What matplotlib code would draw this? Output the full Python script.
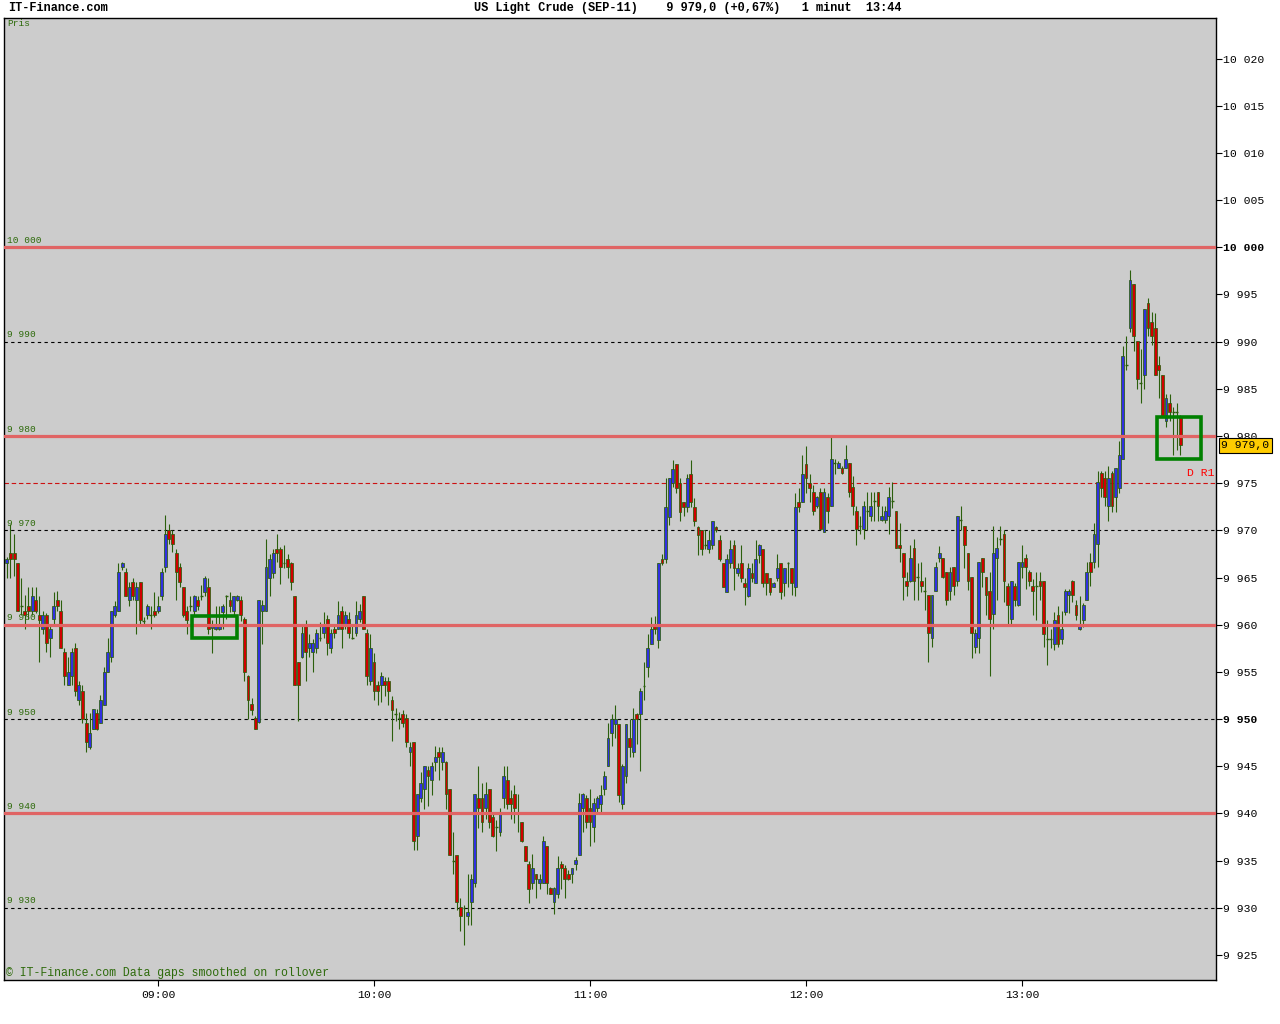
import matplotlib
matplotlib.use("Agg")
import matplotlib.pyplot as plt
import matplotlib.transforms as mtransforms
from matplotlib.patches import Rectangle

plt.rcParams['font.family'] = ['Liberation Mono', 'DejaVu Sans Mono']

# 1 minute candles, US Light Crude (SEP-11), first candle at 08:18
first_minute = 18

open_ = [
    9966.5, 9967.6, 9967.6, 9966.5, 9962.0, 9961.5, 9962.0, 9961.5, 9962.6, 9961.0,
    9959.6, 9961.0, 9958.6, 9960.6, 9962.6, 9961.5, 9957.1, 9953.6, 9954.6, 9957.5,
    9952.0, 9953.0, 9949.6, 9947.0, 9949.0, 9950.6, 9949.6, 9951.5, 9955.0, 9956.6,
    9961.0, 9961.5, 9966.1, 9965.6, 9962.6, 9964.5, 9962.6, 9964.5, 9960.4, 9961.0,
    9961.0, 9961.5, 9961.5, 9963.0, 9966.1, 9970.0, 9969.6, 9967.6, 9966.1, 9964.0,
    9961.5, 9962.0, 9961.5, 9962.6, 9963.0, 9963.5, 9964.0, 9959.7, 9959.6, 9959.6,
    9961.3, 9963.0, 9962.6, 9961.5, 9962.6, 9962.6, 9960.6, 9954.6, 9951.6, 9950.1,
    9949.7, 9961.5, 9961.5, 9965.0, 9965.5, 9968.0, 9968.0, 9966.5, 9967.0, 9966.5,
    9963.0, 9956.0, 9956.6, 9960.0, 9957.5, 9957.1, 9957.5, 9958.6, 9959.1, 9960.6,
    9957.5, 9959.6, 9959.6, 9961.5, 9959.9, 9960.6, 9958.6, 9959.1, 9960.6, 9963.0,
    9959.1, 9954.0, 9956.0, 9953.6, 9953.6, 9954.0, 9954.0, 9952.0, 9950.5, 9950.1,
    9950.5, 9950.1, 9946.5, 9947.6, 9937.6, 9941.6, 9942.6, 9944.6, 9943.5, 9945.5,
    9946.5, 9945.5, 9945.5, 9942.6, 9935.0, 9935.6, 9930.1, 9930.0, 9929.1, 9930.6,
    9932.6, 9941.6, 9941.6, 9940.6, 9942.6, 9939.6, 9938.6, 9938.0, 9941.6, 9943.5,
    9941.6, 9942.1, 9940.0, 9939.1, 9936.6, 9934.6, 9932.6, 9933.6, 9932.6, 9932.6,
    9936.6, 9932.1, 9930.6, 9931.5, 9934.6, 9934.2, 9933.6, 9933.6, 9934.6, 9935.6,
    9940.6, 9941.6, 9940.6, 9938.6, 9940.6, 9941.0, 9942.6, 9945.0, 9948.5, 9949.5,
    9949.5, 9941.0, 9944.0, 9948.0, 9946.5, 9950.5, 9950.5, 9953.5, 9955.5, 9958.0,
    9960.0, 9958.4, 9967.0, 9967.0, 9971.4, 9975.0, 9977.0, 9975.0, 9973.0, 9972.5,
    9976.0, 9972.5, 9970.4, 9970.0, 9968.5, 9968.0, 9968.5, 9970.4, 9969.0, 9966.5,
    9963.5, 9966.5, 9968.5, 9965.5, 9966.5, 9964.4, 9963.0, 9965.5, 9964.4, 9967.4,
    9968.0, 9965.5, 9965.0, 9964.0, 9965.0, 9966.5, 9964.4, 9966.5, 9966.0, 9964.0,
    9973.0, 9973.0, 9977.0, 9975.0, 9974.1, 9972.6, 9974.1, 9969.8, 9973.5, 9972.6,
    9977.1, 9976.6, 9976.6, 9976.6, 9977.1, 9974.6, 9972.1, 9970.5, 9970.1, 9972.1,
    9971.5, 9973.1, 9974.1, 9971.1, 9971.1, 9971.5, 9973.1, 9972.1, 9968.5, 9967.6,
    9964.6, 9964.6, 9968.1, 9965.1, 9964.6, 9963.6, 9963.1, 9958.6, 9963.6, 9967.1,
    9967.1, 9965.6, 9963.6, 9966.1, 9964.6, 9971.1, 9970.5, 9967.6, 9965.1, 9957.6,
    9958.6, 9967.1, 9965.1, 9963.6, 9961.1, 9967.1, 9969.1, 9969.6, 9964.1, 9960.6,
    9964.1, 9962.1, 9966.1, 9967.1, 9965.6, 9964.1, 9964.1, 9964.6, 9964.6, 9958.5,
    9958.5, 9958.0, 9961.0, 9958.5, 9961.4, 9963.1, 9964.6, 9962.1, 9959.5, 9960.5,
    9962.6, 9966.6, 9966.6, 9968.6, 9976.1, 9975.6, 9972.6, 9976.1, 9973.5, 9974.5,
    9977.6, 9987.5, 9991.5, 9996.1, 9990.1, 9985.6, 9986.5, 9994.1, 9992.1, 9991.5,
    9987.5, 9986.5, 9981.6, 9983.5, 9982.5, 9982.5, 9982.0,
]
high = [
    9967.2, 9970.7, 9969.6, 9966.5, 9965.0, 9963.1, 9964.0, 9964.0, 9964.0, 9963.0,
    9961.5, 9961.2, 9960.1, 9963.5, 9963.6, 9962.6, 9957.5, 9956.6, 9957.5, 9958.1,
    9954.0, 9953.6, 9950.6, 9950.6, 9951.1, 9951.1, 9952.6, 9955.5, 9958.6, 9961.5,
    9962.5, 9966.5, 9966.6, 9966.0, 9964.5, 9965.0, 9964.5, 9964.5, 9960.8, 9962.2,
    9962.0, 9963.5, 9963.0, 9966.0, 9971.6, 9970.7, 9970.0, 9968.0, 9966.5, 9964.0,
    9962.0, 9963.0, 9963.2, 9963.0, 9964.2, 9965.2, 9965.0, 9960.5, 9962.0, 9962.0,
    9962.2, 9963.1, 9963.5, 9963.0, 9963.1, 9963.0, 9960.8, 9954.7, 9952.2, 9950.3,
    9962.6, 9962.6, 9969.1, 9967.5, 9968.0, 9969.6, 9968.2, 9968.5, 9967.5, 9966.6,
    9963.0, 9956.0, 9960.0, 9960.5, 9959.0, 9958.5, 9959.5, 9960.3, 9961.3, 9961.0,
    9959.5, 9960.0, 9962.5, 9962.0, 9961.5, 9961.3, 9960.0, 9962.5, 9962.2, 9963.0,
    9959.5, 9959.0, 9957.0, 9954.0, 9955.0, 9954.5, 9954.5, 9952.5, 9951.2, 9950.8,
    9951.0, 9950.5, 9947.6, 9947.6, 9942.1, 9944.4, 9945.0, 9945.0, 9945.5, 9947.2,
    9947.0, 9947.0, 9945.6, 9942.6, 9938.0, 9935.6, 9931.0, 9930.3, 9933.6, 9933.6,
    9942.1, 9945.0, 9943.2, 9943.3, 9942.6, 9940.0, 9939.3, 9940.6, 9945.0, 9945.0,
    9942.5, 9943.0, 9942.1, 9939.1, 9936.6, 9935.0, 9935.7, 9933.6, 9933.6, 9937.6,
    9936.6, 9932.2, 9932.2, 9935.5, 9935.0, 9934.5, 9934.0, 9934.2, 9935.4, 9942.2,
    9942.2, 9942.0, 9942.6, 9941.6, 9941.8, 9943.0, 9944.5, 9949.6, 9950.5, 9951.5,
    9949.5, 9945.2, 9949.5, 9950.0, 9951.2, 9950.6, 9953.3, 9956.0, 9959.0, 9960.8,
    9960.9, 9966.5, 9967.5, 9975.5, 9975.5, 9977.5, 9977.0, 9975.5, 9973.0, 9976.0,
    9977.5, 9973.4, 9970.5, 9970.0, 9970.0, 9970.0, 9971.0, 9970.5, 9969.5, 9966.5,
    9967.5, 9969.0, 9969.0, 9966.5, 9968.5, 9965.0, 9966.5, 9966.5, 9969.0, 9968.6,
    9968.0, 9965.5, 9965.0, 9964.5, 9967.5, 9966.5, 9966.0, 9966.6, 9966.0, 9974.0,
    9974.5, 9978.0, 9978.9, 9976.0, 9974.8, 9973.6, 9974.5, 9974.5, 9974.0, 9979.9,
    9977.6, 9977.3, 9976.8, 9979.1, 9977.1, 9975.8, 9972.6, 9971.5, 9973.1, 9974.1,
    9974.1, 9974.1, 9974.1, 9972.6, 9972.6, 9974.6, 9975.1, 9972.1, 9970.8, 9967.6,
    9965.6, 9968.5, 9969.1, 9966.5, 9966.6, 9965.1, 9963.1, 9963.1, 9966.6, 9968.3,
    9967.1, 9965.6, 9966.1, 9966.1, 9971.5, 9972.6, 9970.5, 9967.6, 9965.1, 9959.6,
    9966.6, 9967.1, 9965.1, 9965.6, 9970.5, 9969.3, 9970.5, 9970.0, 9964.4, 9964.6,
    9964.4, 9966.6, 9968.5, 9967.5, 9965.8, 9964.8, 9965.6, 9965.6, 9964.6, 9960.5,
    9959.5, 9961.4, 9962.0, 9961.5, 9963.8, 9963.8, 9964.7, 9962.6, 9963.0, 9962.3,
    9966.6, 9967.6, 9970.8, 9976.3, 9976.3, 9976.3, 9976.8, 9976.3, 9976.6, 9979.5,
    9989.5, 9990.6, 9997.6, 9996.1, 9990.1, 9989.2, 9993.5, 9994.6, 9993.1, 9993.0,
    9988.5, 9986.5, 9984.5, 9984.5, 9983.1, 9983.5, 9982.2,
]
low = [
    9965.0, 9965.0, 9965.2, 9961.5, 9961.0, 9959.6, 9960.6, 9961.0, 9961.2, 9956.0,
    9959.0, 9957.1, 9956.6, 9960.0, 9961.5, 9957.5, 9953.6, 9953.6, 9953.6, 9952.5,
    9951.5, 9949.6, 9946.5, 9946.8, 9949.0, 9948.8, 9949.6, 9951.5, 9955.0, 9956.0,
    9960.8, 9961.5, 9965.8, 9963.0, 9962.0, 9962.6, 9959.0, 9960.0, 9960.0, 9960.6,
    9959.6, 9960.8, 9961.2, 9962.6, 9965.6, 9968.6, 9967.7, 9962.6, 9964.0, 9960.8,
    9959.0, 9961.5, 9961.0, 9961.6, 9962.6, 9963.0, 9959.0, 9957.0, 9959.4, 9959.4,
    9959.5, 9960.6, 9961.3, 9961.0, 9962.5, 9960.4, 9954.0, 9950.0, 9950.4, 9949.0,
    9949.6, 9958.0, 9961.5, 9963.0, 9965.0, 9966.7, 9964.3, 9966.0, 9965.0, 9963.7,
    9953.6, 9949.8, 9956.5, 9954.0, 9956.6, 9955.0, 9957.0, 9958.3, 9958.6, 9956.8,
    9957.0, 9958.6, 9959.5, 9957.5, 9959.5, 9958.6, 9958.5, 9958.8, 9960.3, 9959.6,
    9953.6, 9953.6, 9952.0, 9951.5, 9951.8, 9952.5, 9951.5, 9947.7, 9949.8, 9949.0,
    9949.2, 9947.0, 9945.0, 9936.1, 9936.1, 9941.2, 9940.5, 9940.8, 9942.0, 9944.5,
    9943.5, 9944.6, 9940.5, 9935.6, 9933.6, 9929.8, 9927.5, 9926.1, 9928.2, 9928.2,
    9932.2, 9938.5, 9938.0, 9939.4, 9938.5, 9937.5, 9936.0, 9937.6, 9940.6, 9940.5,
    9939.4, 9939.0, 9938.0, 9937.0, 9935.0, 9930.5, 9932.0, 9931.0, 9932.0, 9932.6,
    9931.5, 9931.5, 9929.3, 9931.0, 9932.0, 9931.0, 9933.0, 9932.6, 9934.0, 9935.6,
    9938.0, 9938.5, 9936.6, 9937.0, 9940.0, 9940.0, 9942.0, 9945.0, 9947.2, 9948.0,
    9941.2, 9940.5, 9943.2, 9946.0, 9946.0, 9947.4, 9944.5, 9952.0, 9954.5, 9958.0,
    9959.0, 9957.5, 9966.3, 9966.5, 9970.6, 9974.6, 9974.0, 9971.0, 9971.5, 9972.0,
    9972.5, 9970.5, 9967.4, 9967.4, 9968.0, 9967.6, 9968.0, 9969.8, 9966.8, 9964.0,
    9963.5, 9966.0, 9963.7, 9965.2, 9964.5, 9962.1, 9962.9, 9964.5, 9964.4, 9966.5,
    9964.0, 9963.2, 9963.2, 9964.0, 9964.6, 9962.7, 9963.0, 9964.0, 9963.2, 9963.0,
    9972.0, 9973.0, 9974.0, 9973.0, 9971.6, 9972.4, 9970.0, 9969.8, 9970.8, 9972.6,
    9976.0, 9976.6, 9976.0, 9976.6, 9973.5, 9971.6, 9968.5, 9969.6, 9969.1, 9970.0,
    9971.0, 9971.0, 9971.0, 9971.0, 9970.8, 9969.6, 9972.4, 9968.1, 9966.6, 9962.6,
    9963.0, 9964.5, 9962.6, 9962.6, 9963.5, 9961.6, 9956.1, 9957.6, 9963.6, 9966.6,
    9965.0, 9962.1, 9962.6, 9963.1, 9964.1, 9970.0, 9966.0, 9963.7, 9956.5, 9957.0,
    9957.0, 9964.0, 9961.0, 9954.6, 9959.6, 9962.6, 9968.5, 9962.4, 9960.0, 9960.0,
    9962.0, 9962.0, 9965.0, 9963.8, 9964.1, 9961.0, 9960.5, 9962.6, 9957.6, 9955.7,
    9957.5, 9957.3, 9957.6, 9958.0, 9961.0, 9961.2, 9962.4, 9960.5, 9959.4, 9959.8,
    9962.6, 9964.1, 9966.0, 9966.1, 9973.5, 9972.6, 9971.0, 9972.0, 9972.0, 9974.0,
    9977.6, 9987.0, 9991.0, 9989.0, 9985.0, 9983.5, 9985.0, 9990.6, 9989.6, 9986.5,
    9984.0, 9982.0, 9981.0, 9981.6, 9978.0, 9978.5, 9978.0,
]
close = [
    9967.0, 9967.0, 9967.0, 9961.5, 9962.0, 9961.0, 9961.5, 9963.0, 9961.5, 9960.5,
    9961.0, 9958.1, 9959.6, 9962.0, 9962.0, 9957.5, 9954.6, 9955.0, 9957.1, 9953.0,
    9953.6, 9950.0, 9947.6, 9948.5, 9951.1, 9949.0, 9952.0, 9955.0, 9957.1, 9961.5,
    9962.0, 9965.6, 9966.5, 9963.0, 9964.0, 9963.0, 9964.0, 9960.5, 9960.4, 9962.0,
    9961.0, 9961.0, 9962.0, 9965.6, 9969.6, 9969.1, 9968.6, 9965.6, 9964.5, 9961.0,
    9960.5, 9962.0, 9963.0, 9962.0, 9963.0, 9965.0, 9959.6, 9960.0, 9959.9, 9960.0,
    9962.0, 9963.0, 9962.0, 9963.0, 9963.0, 9961.0, 9955.0, 9952.0, 9951.0, 9949.0,
    9962.6, 9962.1, 9966.1, 9967.0, 9967.6, 9967.6, 9966.1, 9966.5, 9966.1, 9964.5,
    9953.6, 9953.6, 9959.1, 9957.1, 9958.1, 9958.1, 9959.1, 9958.6, 9959.9, 9958.1,
    9959.1, 9959.1, 9961.0, 9959.6, 9961.0, 9959.1, 9958.6, 9961.0, 9961.5, 9959.6,
    9954.6, 9957.5, 9953.0, 9953.0, 9954.6, 9953.6, 9953.0, 9951.0, 9950.5, 9950.1,
    9949.6, 9947.6, 9947.0, 9937.1, 9942.1, 9943.2, 9945.0, 9944.0, 9945.0, 9946.0,
    9946.0, 9946.5, 9942.1, 9935.6, 9935.0, 9930.6, 9929.1, 9930.0, 9929.6, 9933.1,
    9942.1, 9940.6, 9939.1, 9942.1, 9939.1, 9937.6, 9938.6, 9940.0, 9944.0, 9941.0,
    9941.0, 9940.6, 9940.0, 9937.1, 9935.0, 9932.0, 9934.2, 9933.1, 9933.1, 9937.1,
    9932.6, 9931.5, 9932.1, 9934.2, 9934.2, 9933.1, 9933.1, 9934.2, 9935.1, 9941.1,
    9942.1, 9939.1, 9939.1, 9941.1, 9941.6, 9942.0, 9944.0, 9948.0, 9950.0, 9950.0,
    9942.0, 9945.0, 9949.5, 9947.0, 9950.0, 9950.0, 9953.0, 9953.5, 9957.5, 9959.5,
    9959.5, 9966.5, 9966.5, 9972.5, 9975.5, 9976.5, 9974.5, 9972.0, 9972.5, 9975.5,
    9973.0, 9971.0, 9969.5, 9968.0, 9968.5, 9969.0, 9971.0, 9970.0, 9967.0, 9964.0,
    9967.0, 9968.0, 9966.0, 9966.0, 9965.0, 9964.0, 9966.0, 9965.0, 9967.0, 9968.5,
    9964.4, 9964.4, 9963.5, 9964.4, 9966.0, 9963.5, 9966.0, 9966.5, 9964.4, 9972.5,
    9972.5, 9976.0, 9975.5, 9974.5, 9972.1, 9973.5, 9970.1, 9974.1, 9972.1, 9977.6,
    9977.1, 9977.1, 9976.1, 9977.6, 9974.1, 9972.6, 9970.1, 9970.5, 9972.6, 9972.1,
    9972.6, 9973.1, 9972.6, 9971.5, 9972.1, 9973.5, 9973.1, 9968.1, 9968.1, 9965.1,
    9964.1, 9967.1, 9964.6, 9965.1, 9964.1, 9963.6, 9959.1, 9963.1, 9966.1, 9967.6,
    9965.1, 9962.6, 9965.6, 9964.1, 9971.5, 9971.1, 9968.5, 9964.6, 9959.1, 9959.1,
    9966.6, 9965.6, 9963.1, 9960.6, 9967.6, 9968.1, 9969.1, 9964.6, 9962.1, 9964.6,
    9962.6, 9966.6, 9966.6, 9966.1, 9964.6, 9963.6, 9964.1, 9964.1, 9959.0, 9958.5,
    9958.5, 9960.5, 9958.0, 9959.5, 9963.6, 9963.6, 9963.1, 9961.0, 9960.0, 9962.1,
    9965.6, 9965.6, 9969.6, 9975.1, 9974.5, 9973.5, 9975.6, 9972.6, 9976.6, 9978.0,
    9988.5, 9987.5, 9996.5, 9990.6, 9986.0, 9985.6, 9993.5, 9991.5, 9990.6, 9986.5,
    9987.0, 9982.0, 9984.0, 9982.5, 9982.5, 9982.5, 9979.0,
]

solid_levels = [10000, 9980, 9960, 9940]
dotted_levels = [9990, 9970, 9950, 9930]
pivot_r1 = 9975
last_price = 9979.0
time_ticks = [60, 120, 180, 240, 300]
time_labels = ['09:00', '10:00', '11:00', '12:00', '13:00']
price_ticks = list(range(9925, 10021, 5))
bold_prices = [10000, 9950]

W, H = 1280, 1024
green = '#2b5f0c'
label_green = '#2d6a0a'

fig = plt.figure(figsize=(W / 100, H / 100), dpi=100)
ax = fig.add_axes([4 / W, 1 - 980 / H, (1216 - 4) / W, (980 - 18) / H])
ax.set_facecolor('#cccccc')
ax.set_xlim(17.2, 353.9)
ax.set_ylim(9922.35, 10024.3)

minutes = [first_minute + i for i in range(len(close))]

# wicks
ax.vlines(minutes, low, high, color=green, lw=0.8, zorder=2)

# bodies
body_x, body_bottom, body_height, body_color = [], [], [], []
for t, o, c in zip(minutes, open_, close):
    if c == o:
        ax.hlines(c, t - 0.4, t + 0.4, color=green, lw=1.0, zorder=3)
        continue
    body_x.append(t)
    body_bottom.append(min(o, c))
    body_height.append(abs(c - o))
    body_color.append('#3030e0' if c > o else '#d00000')
ax.bar(body_x, body_height, bottom=body_bottom, width=0.8, color=body_color,
       edgecolor=green, linewidth=0.55, zorder=3)

# levels
for lvl in dotted_levels:
    ax.axhline(lvl, color='black', lw=0.8, ls=(0, (3, 3)), zorder=1.5)
ax.axhline(pivot_r1, color='#cc1111', lw=0.8, ls=(0, (4, 2.5)), zorder=1.5)
for lvl in solid_levels:
    ax.axhline(lvl, color='#e06464', lw=2.3, zorder=4)

blend = mtransforms.blended_transform_factory(ax.transAxes, ax.transData)
for lvl in sorted(solid_levels + dotted_levels, reverse=True):
    lab = f"{lvl:,}".replace(',', ' ')
    ax.text(3 / 1212, lvl + 0.25, lab, transform=blend, fontsize=6.8,
            color=label_green, ha='left', va='bottom', zorder=5)

ax.text(3 / 1212, 1 - 6 / 962, 'Pris', transform=ax.transAxes, fontsize=6.8,
        color=label_green, ha='left', va='center')

# marker boxes
ax.add_patch(Rectangle((69.4, 9958.6), 12.5, 2.36, fill=False,
                       edgecolor='#008000', lw=2.6, zorder=6))
ax.add_patch(Rectangle((337.5, 9977.55), 12.2, 4.45, fill=False,
                       edgecolor='#008000', lw=2.6, zorder=6))

ax.text(0.9985, 9976.1, 'D R1', transform=blend, color='red', fontsize=8.2,
        ha='right', va='center', zorder=6)

# axes
ax.yaxis.tick_right()
ax.set_yticks(price_ticks, [f"{p:,}".replace(',', ' ') for p in price_ticks])
for lab, p in zip(ax.get_yticklabels(), price_ticks):
    if p in bold_prices:
        lab.set_fontweight('bold')
ax.set_xticks(time_ticks, time_labels)
ax.tick_params(axis='y', length=4, width=0.8, pad=1.0, labelsize=8.2,
               left=False, right=True, labelleft=False, labelright=True)
ax.tick_params(axis='x', length=4, width=0.8, pad=3, labelsize=8.2)
for s in ax.spines.values():
    s.set_linewidth(1.0)

ax.text(1.0045, last_price, '9 979,0', transform=blend, fontsize=8.2,
        ha='left', va='center', clip_on=False, zorder=7,
        bbox=dict(boxstyle='square,pad=0.18', fc='#ffcc00', ec='black', lw=0.8))

# header and footer
fig.text(8 / W, 1 - 8 / H, 'IT-Finance.com', fontsize=8.6, fontweight='bold',
         ha='left', va='center')
fig.text(474 / W, 1 - 8 / H,
         'US Light Crude (SEP-11)    9 979,0 (+0,67%)   1 minut  13:44',
         fontsize=8.6, fontweight='bold', ha='left', va='center')
fig.text(6 / W, 1 - 973 / H, '© IT-Finance.com Data gaps smoothed on rollover',
         fontsize=8.3, color=label_green, ha='left', va='center')

fig.savefig('out.png', dpi=100)
